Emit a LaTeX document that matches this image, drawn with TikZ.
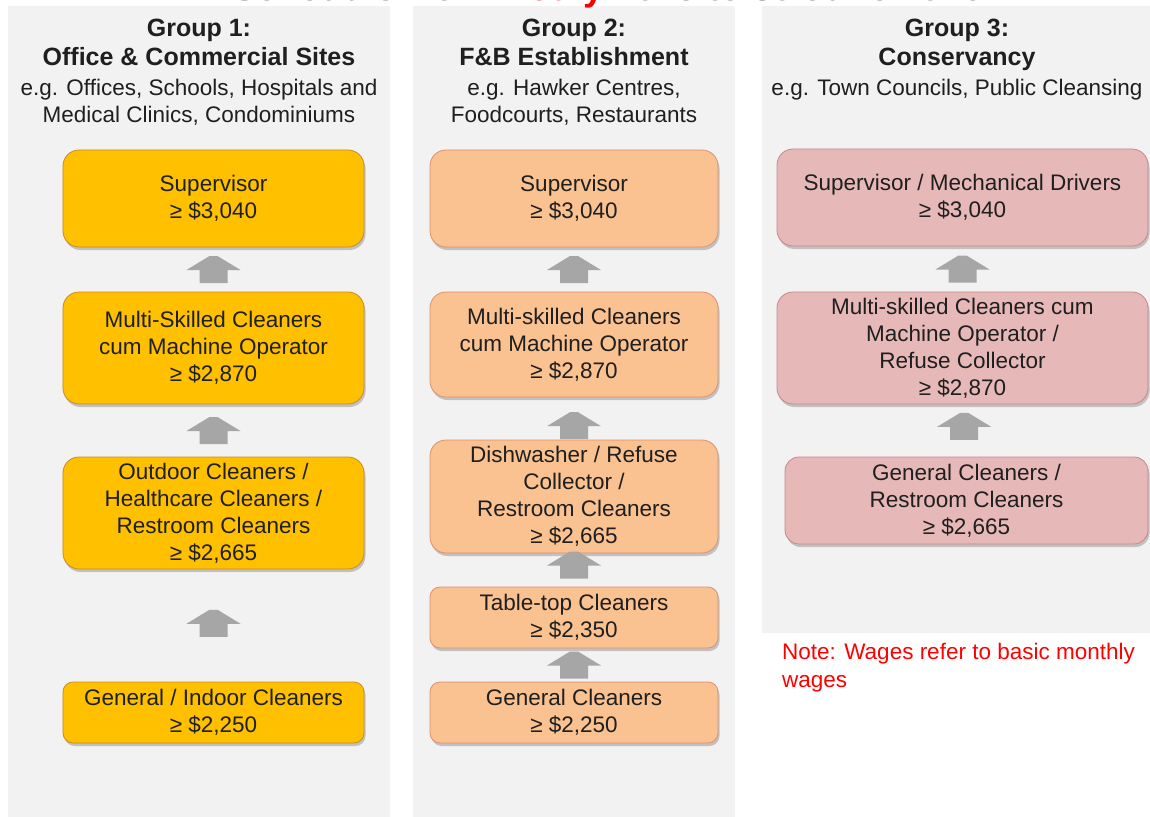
\documentclass[tikz,border=0pt]{standalone}
\usepackage{fontspec}
\setmainfont{Liberation Sans}
\usetikzlibrary{shadows}
\usepackage{xcolor}
\definecolor{panelgrey}{HTML}{F2F2F2}
\definecolor{arrowgrey}{HTML}{A6A6A6}
\definecolor{goldfill}{HTML}{FFC000}
\definecolor{goldline}{HTML}{C98B2A}
\definecolor{peachfill}{HTML}{FAC191}
\definecolor{peachline}{HTML}{E0906A}
\definecolor{rosefill}{HTML}{E6B9B8}
\definecolor{roseline}{HTML}{C98886}
\definecolor{textdark}{HTML}{1F1F1F}
\definecolor{titlegrey}{HTML}{404040}
\definecolor{notered}{HTML}{FF0000}

% fat grey arrow between a lower and an upper box
\newcommand{\levelup}[3]{%
  \path (#1.north) -- (#2.south) coordinate[pos=#3] (m);
  \fill[arrowgrey, shift={(m)}] (-14,13.5) -- (-14,0.5) -- (-27,0.5) -- (-4,-13.5)
    -- (4,-13.5) -- (27,0.5) -- (14,0.5) -- (14,13.5) -- cycle;}

\begin{document}
\begin{tikzpicture}[x=1bp, y=-1bp,
  every node/.style={text=textdark, inner sep=0pt, align=center},
  headbold/.style={font=\fontsize{25bp}{29bp}\selectfont\bfseries},
  egtext/.style={font=\fontsize{22.5bp}{27bp}\selectfont},
  wagebox/.style={font=\fontsize{22.5bp}{27bp}\selectfont, line width=0.8bp,
    drop shadow={shadow xshift=1.5bp, shadow yshift=-3bp, fill=black, opacity=0.2}},
  g1box/.style={wagebox, fill=goldfill, draw=goldline, minimum width=301bp},
  g2box/.style={wagebox, fill=peachfill, draw=peachline, minimum width=288bp},
  g3box/.style={wagebox, fill=rosefill, draw=roseline, minimum width=371bp}]
  \useasboundingbox (0,0) rectangle (1150,817);
  % panels
  \fill[panelgrey] (8,6) rectangle (390,817);
  \fill[panelgrey] (413,6) rectangle (735,817);
  \fill[panelgrey] (762,6) rectangle (1150,633);

  % Group 1
  \node[headbold] (head1) at (199,42.5) {Group 1:\\Office \& Commercial Sites};
  \node[egtext] (eg1) at (199,102.5) {e.g. Offices, Schools, Hospitals and\\Medical Clinics, Condominiums};
  \node[g1box, minimum height=97bp, rounded corners=16bp] (sup1) at (213.5,198.5) {Supervisor\\≥ \$3,040};
  \node[g1box, minimum height=112bp, rounded corners=16bp] (multi1) at (213.5,348) {Multi-Skilled Cleaners\\cum Machine Operator\\≥ \$2,870};
  \node[g1box, minimum height=112bp, rounded corners=16bp] (outdoor1) at (213.5,513) {Outdoor Cleaners /\\Healthcare Cleaners /\\Restroom Cleaners\\≥ \$2,665};
  \node[g1box, minimum height=61bp, rounded corners=10bp] (general1) at (213.5,712.5) {General / Indoor Cleaners\\≥ \$2,250};
  \levelup{multi1}{sup1}{0.5}
  \levelup{outdoor1}{multi1}{0.5}
  \levelup{general1}{outdoor1}{0.52}

  % Group 2
  \node[headbold] (head2) at (574,42.5) {Group 2:\\F\&B Establishment};
  \node[egtext] (eg2) at (574,102.5) {e.g. Hawker Centres,\\Foodcourts, Restaurants};
  \node[g2box, minimum height=97bp, rounded corners=16bp] (sup2) at (574,198.5) {Supervisor\\≥ \$3,040};
  \node[g2box, minimum height=105bp, rounded corners=16bp] (multi2) at (574,344.5) {Multi-skilled Cleaners\\cum Machine Operator\\≥ \$2,870};
  \node[g2box, minimum height=113bp, rounded corners=16bp] (dish2) at (574,496.5) {Dishwasher / Refuse\\Collector /\\Restroom Cleaners\\≥ \$2,665};
  \node[g2box, minimum height=61bp, rounded corners=10bp] (table2) at (574,617.5) {Table-top Cleaners\\≥ \$2,350};
  \node[g2box, minimum height=61bp, rounded corners=10bp] (general2) at (574,712.5) {General Cleaners\\≥ \$2,250};
  \levelup{multi2}{sup2}{0.5}
  \levelup{dish2}{multi2}{0.33}
  \levelup{table2}{dish2}{0.65}
  \levelup{general2}{table2}{0.5}

  % Group 3
  \node[headbold] (head3) at (957,45) {Group 3:\\Conservancy};
  \node[egtext] (eg3) at (957,90) {e.g. Town Councils, Public Cleansing};
  \node[g3box, minimum height=97bp, rounded corners=16bp] (sup3) at (962.5,197.5) {Supervisor / Mechanical Drivers\\≥ \$3,040};
  \node[g3box, minimum height=112bp, rounded corners=16bp] (multi3) at (962.5,348) {Multi-skilled Cleaners cum\\Machine Operator /\\Refuse Collector\\≥ \$2,870};
  \node[g3box, minimum height=87bp, minimum width=363bp, rounded corners=14bp] (general3) at (966.5,500.5) {General Cleaners /\\Restroom Cleaners\\≥ \$2,665};
  \levelup{multi3}{sup3}{0.5}
  \levelup{general3}{multi3}{0.58}

  % note
  \node[egtext, text=notered, align=left, anchor=north west,
    font=\fontsize{22.5bp}{28bp}\selectfont] (note) at (782,643) {Note: Wages refer to basic monthly\\wages};

  % title, cut off at the top edge
  \begin{scope}
    \clip (0,0) rectangle (1150,817);
    \node[anchor=base, text=titlegrey, font=\fontsize{37bp}{40bp}\selectfont\bfseries] (title) at (557,0.5)
      {PWM Schedule from 1 \textcolor{notered}{July} 2025 to 30 June 2026};
  \end{scope}
\end{tikzpicture}
\end{document}
